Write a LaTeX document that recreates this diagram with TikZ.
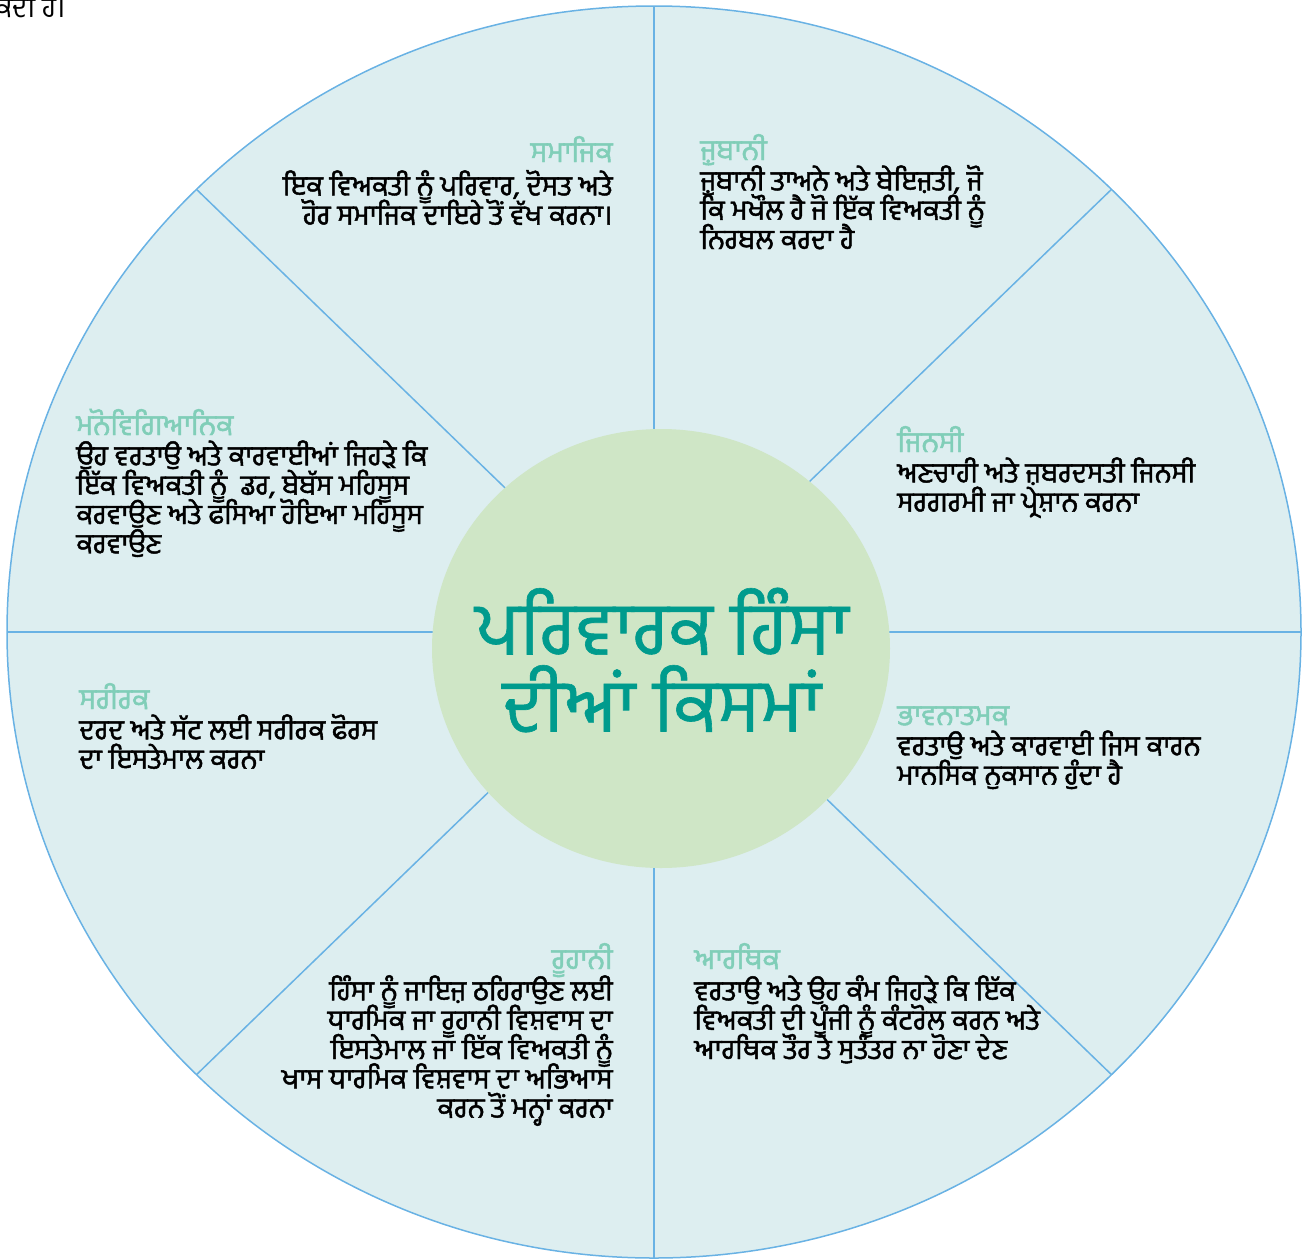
\documentclass[tikz,border=0pt]{standalone}
\usepackage{fontspec}
\newfontfamily\gurfont[Script=Gurmukhi]{Hind Jalandhar}
\newfontfamily\gurbold[Script=Gurmukhi,FakeBold=1.6]{Hind Jalandhar}
\newfontfamily\gurtitle[Script=Gurmukhi,FakeBold=0.8]{Hind Jalandhar}
\newcommand\lnstrut{\rule{0pt}{15pt}}
\newcommand\tightlines{\setlength{\lineskiplimit}{-20pt}\setlength{\lineskip}{0pt}}
\definecolor{wheelfill}{RGB}{221,238,240}
\definecolor{wheelline}{RGB}{105,178,228}
\definecolor{hubfill}{RGB}{207,230,198}
\definecolor{titlec}{RGB}{0,155,141}
\definecolor{headc}{RGB}{128,206,184}

\begin{document}
\begin{tikzpicture}[x=0.5pt,y=-0.5pt]
  \tikzstyle{headtxt} = [inner sep=0pt, text=headc, font=\gurbold\fontsize{14.5}{14.65}\selectfont]
  \tikzstyle{bodytxt} = [inner sep=0pt, text=black, font=\gurbold\fontsize{14}{14.65}\selectfont\tightlines]
  \tikzstyle{spoke} = [draw=wheelline, line width=0.75pt]
  \useasboundingbox (0,0) rectangle (1307,1259);

  \coordinate (hub) at (654,632);
  \fill[wheelfill] (hub) ellipse [x radius=647, y radius=626];
  \foreach \a in {0,45,...,315}
    \draw[spoke] (hub) -- ++(\a:647 and 626);
  \draw[spoke] (hub) ellipse [x radius=647, y radius=626];
  \fill[hubfill] (661,648.5) ellipse [x radius=229, y radius=219.5];

  \node[inner sep=0pt, anchor=base east, font=\gurfont\fontsize{14}{14.65}\selectfont] (cut) at (66,17) {ਸਕਦੀ ਹੈ।};

  \node[inner sep=0pt, text=titlec, align=center, font=\gurtitle\fontsize{37}{38.5}\selectfont] (title) at (662,660) {ਪਰਿਵਾਰਕ ਹਿੰਸਾ\\ਦੀਆਂ ਕਿਸਮਾਂ};

  \node[headtxt, anchor=base east] (sam) at (613,162) {ਸਮਾਜਿਕ};
  \node[bodytxt, anchor=north east, align=right] (samtxt) at ([yshift=-1.5pt]sam.base east) {\lnstrut ਇਕ ਵਿਅਕਤੀ ਨੂੰ ਪਰਿਵਾਰ, ਦੋਸਤ ਅਤੇ\\ਹੋਰ ਸਮਾਜਿਕ ਦਾਇਰੇ ਤੋਂ ਵੱਖ ਕਰਨਾ।};

  \node[headtxt, anchor=base west] (jub) at (700,160) {ਜ਼ੁਬਾਨੀ};
  \node[bodytxt, anchor=north west, align=left] (jubtxt) at (jub.base west) {\lnstrut ਜ਼ੁਬਾਨੀ ਤਾਅਨੇ ਅਤੇ ਬੇਇਜ਼ਤੀ, ਜੋ\\ਕਿ ਮਖੌਲ ਹੈ ਜੋ ਇੱਕ ਵਿਅਕਤੀ ਨੂੰ\\ਨਿਰਬਲ ਕਰਦਾ ਹੈ};

  \node[headtxt, anchor=base west] (mano) at (76,435) {ਮਨੋਵਿਗਿਆਨਿਕ};
  \node[bodytxt, anchor=north west, align=left] (manotxt) at (mano.base west) {\lnstrut ਉਹ ਵਰਤਾਉ ਅਤੇ ਕਾਰਵਾਈਆਂ ਜਿਹੜੇ ਕਿ\\ਇੱਕ ਵਿਅਕਤੀ ਨੂੰ\ \ ਡਰ, ਬੇਬੱਸ ਮਹਿਸੂਸ\\ਕਰਵਾਉਣ ਅਤੇ ਫਸਿਆ ਹੋਇਆ ਮਹਿਸੂਸ\\ਕਰਵਾਉਣ};

  \node[headtxt, anchor=base west] (jin) at (897,452) {ਜਿਨਸੀ};
  \node[bodytxt, anchor=north west, align=left] (jintxt) at (jin.base west) {\lnstrut ਅਣਚਾਹੀ ਅਤੇ ਜ਼ਬਰਦਸਤੀ ਜਿਨਸੀ\\ਸਰਗਰਮੀ ਜਾ ਪ੍ਰੇਸ਼ਾਨ ਕਰਨਾ};

  \node[headtxt, anchor=base west] (sar) at (79,709) {ਸਰੀਰਕ};
  \node[bodytxt, anchor=north west, align=left] (sartxt) at (sar.base west) {\lnstrut ਦਰਦ ਅਤੇ ਸੱਟ ਲਈ ਸਰੀਰਕ ਫੋਰਸ\\ਦਾ ਇਸਤੇਮਾਲ ਕਰਨਾ};

  \node[headtxt, anchor=base west] (bhav) at (897,725) {ਭਾਵਨਾਤਮਕ};
  \node[bodytxt, anchor=north west, align=left] (bhavtxt) at (bhav.base west) {\lnstrut ਵਰਤਾਉ ਅਤੇ ਕਾਰਵਾਈ ਜਿਸ ਕਾਰਨ\\ਮਾਨਸਿਕ ਨੁਕਸਾਨ ਹੁੰਦਾ ਹੈ};

  \node[headtxt, anchor=base east] (ruh) at (613,969) {ਰੂਹਾਨੀ};
  \node[bodytxt, anchor=north east, align=right] (ruhtxt) at ([yshift=-0.5pt]ruh.base east) {\lnstrut ਹਿੰਸਾ ਨੂੰ ਜਾਇਜ਼ ਠਹਿਰਾਉਣ ਲਈ\\ਧਾਰਮਿਕ ਜਾ ਰੂਹਾਨੀ ਵਿਸ਼ਵਾਸ ਦਾ\\ਇਸਤੇਮਾਲ ਜਾ ਇੱਕ ਵਿਅਕਤੀ ਨੂੰ\\ਖਾਸ ਧਾਰਮਿਕ ਵਿਸ਼ਵਾਸ ਦਾ ਅਭਿਆਸ\\ਕਰਨ ਤੋਂ ਮਨ੍ਹਾਂ ਕਰਨਾ};

  \node[headtxt, anchor=base west] (aar) at (694,969) {ਆਰਥਿਕ};
  \node[bodytxt, anchor=north west, align=left] (aartxt) at ([yshift=-0.5pt]aar.base west) {\lnstrut ਵਰਤਾਉ ਅਤੇ ਉਹ ਕੰਮ ਜਿਹੜੇ ਕਿ ਇੱਕ\\ਵਿਅਕਤੀ ਦੀ ਪੂੰਜੀ ਨੂੰ ਕੰਟਰੋਲ ਕਰਨ ਅਤੇ\\ਆਰਥਿਕ ਤੌਰ ਤੇ ਸੁਤੰਤਰ ਨਾ ਹੋਣਾ ਦੇਣ};
\end{tikzpicture}
\end{document}
